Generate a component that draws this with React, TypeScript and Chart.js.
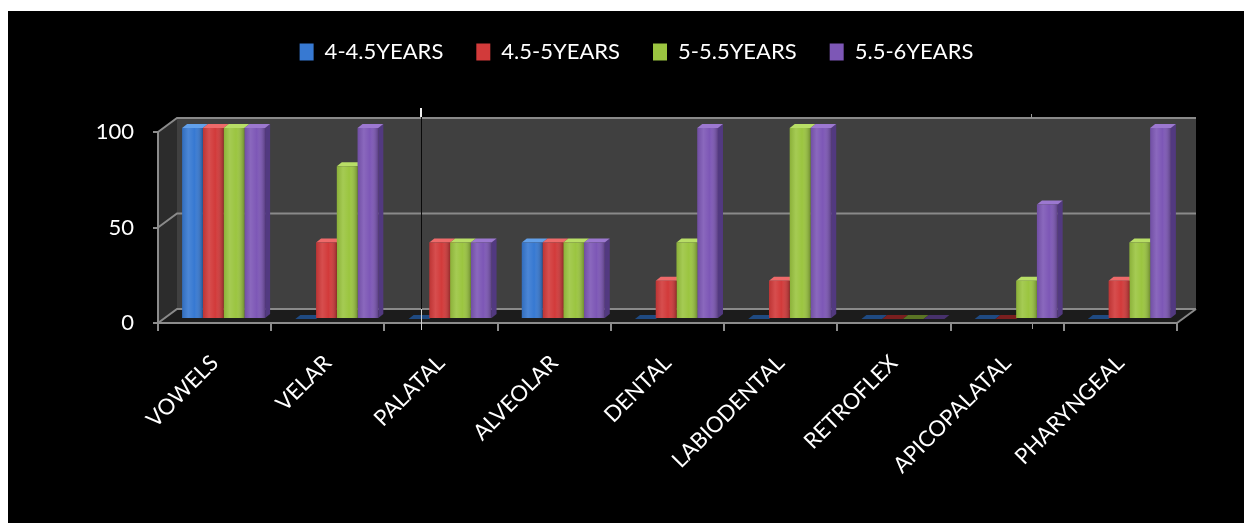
import React, { useEffect, useRef } from 'react';
import { Chart, registerables } from 'chart.js';

Chart.register(...registerables);

// ---------- data ----------
const categories = ['VOWELS', 'VELAR', 'PALATAL', 'ALVEOLAR', 'DENTAL', 'LABIODENTAL', 'RETROFLEX', 'APICOPALATAL', 'PHARYNGEAL'];
const seriesNames = ['4-4.5YEARS', '4.5-5YEARS', '5-5.5YEARS', '5.5-6YEARS'];
const age4to45 = [100, 0, 0, 40, 0, 0, 0, 0, 0];
const age45to5 = [100, 40, 40, 40, 20, 20, 0, 0, 20];
const age5to55 = [100, 80, 40, 40, 40, 100, 0, 20, 40];
const age55to6 = [100, 100, 40, 40, 100, 100, 0, 60, 100];
const yTicks = [0, 50, 100];

// ---------- styles ----------
const FONT = 'Lato, "Open Sans", sans-serif';
const frontColors = ['#3779d2', '#d23a3a', '#9bc540', '#7d57b6'];
const sideColors = ['#234f8c', '#8c2424', '#66852a', '#523980'];
const capColors = ['#62a0ea', '#ee6a6a', '#b8de66', '#9c78d0'];
const floorCapColors = ['#1f4a82', '#7a1f1f', '#5a7424', '#47316c'];
const DX = 19; // depth offset of back wall
const DY = -14;
const BX = 9; // bars translated into the middle of the depth
const BY = -4;
const CX = 5; // bar depth
const CY = -4;

function poly(ctx: CanvasRenderingContext2D, pts: number[][]) {
  ctx.beginPath();
  ctx.moveTo(pts[0][0], pts[0][1]);
  for (let i = 1; i < pts.length; i++) ctx.lineTo(pts[i][0], pts[i][1]);
  ctx.closePath();
  ctx.fill();
}

const frame3d = {
  id: 'frame3d',
  beforeDraw(chart: any) {
    const { ctx, chartArea: a, scales } = chart;
    const y = scales.y;
    const L = a.left, R = a.right, T = a.top, B = a.bottom;
    ctx.save();
    ctx.fillStyle = '#404040';
    ctx.fillRect(L + DX, T + DY, R - L, B - T);
    ctx.fillStyle = '#2c2c2c';
    poly(ctx, [[L, T], [L + DX, T + DY], [L + DX, B + DY], [L, B]]);
    ctx.fillStyle = '#1c1c1c';
    poly(ctx, [[L, B], [L + DX, B + DY], [R + DX, B + DY], [R, B]]);
    ctx.strokeStyle = '#8a8a8a';
    ctx.lineWidth = 2;
    for (const v of yTicks) {
      const py = y.getPixelForValue(v);
      ctx.beginPath();
      ctx.moveTo(L, py);
      ctx.lineTo(L + DX, py + DY);
      ctx.lineTo(R + DX, py + DY);
      ctx.stroke();
    }
    ctx.beginPath();
    ctx.moveTo(R, B);
    ctx.lineTo(R + DX, B + DY);
    ctx.stroke();
    ctx.restore();
  },
};

const bars3d = {
  id: 'bars3d',
  beforeDatasetsDraw(chart: any) {
    const ctx = chart.ctx;
    ctx.save();
    ctx.translate(BX, BY);
    chart.data.datasets.forEach((ds: any, di: number) => {
      const meta = chart.getDatasetMeta(di);
      meta.data.forEach((el: any, i: number) => {
        const { x, y, base, width } = el.getProps(['x', 'y', 'base', 'width'], true);
        const left = x - width / 2;
        const right = x + width / 2;
        const v = ds.data[i];
        if (v > 0) {
          ctx.fillStyle = sideColors[di];
          poly(ctx, [[right, y], [right + CX, y + CY], [right + CX, base + CY], [right, base]]);
          ctx.fillStyle = capColors[di];
          poly(ctx, [[left, y], [left + CX, y + CY], [right + CX, y + CY], [right, y]]);
        } else {
          ctx.fillStyle = floorCapColors[di];
          poly(ctx, [[left, base], [left + CX, base + CY], [right + CX, base + CY], [right, base]]);
        }
      });
    });
  },
  afterDatasetsDraw(chart: any) {
    const ctx = chart.ctx;
    chart.data.datasets.forEach((ds: any, di: number) => {
      const meta = chart.getDatasetMeta(di);
      meta.data.forEach((el: any, i: number) => {
        if (!(ds.data[i] > 0)) return;
        const { x, y, base, width } = el.getProps(['x', 'y', 'base', 'width'], true);
        const left = x - width / 2;
        const g = ctx.createLinearGradient(left, 0, left + width, 0);
        g.addColorStop(0, 'rgba(0,0,0,0.10)');
        g.addColorStop(0.3, 'rgba(255,255,255,0.10)');
        g.addColorStop(0.6, 'rgba(255,255,255,0.0)');
        g.addColorStop(1, 'rgba(0,0,0,0.28)');
        ctx.fillStyle = g;
        ctx.fillRect(left, y, width, base - y);
      });
    });
    ctx.restore();
  },
};

const artifacts = {
  id: 'artifacts',
  afterDraw(chart: any) {
    const ctx = chart.ctx;
    ctx.save();
    ctx.fillStyle = '#f0f0f0';
    ctx.fillRect(412, 100, 2, 9);
    ctx.fillStyle = '#0a0a0a';
    ctx.fillRect(413, 109, 1, 192);
    ctx.fillStyle = '#d0d0d0';
    ctx.fillRect(413, 301, 1, 21);
    ctx.fillStyle = '#9a9a9a';
    ctx.fillRect(1023, 106, 1, 4);
    ctx.fillRect(1024, 316, 1, 5);
    ctx.restore();
  },
};

const legendSpace = {
  id: 'legendSpace',
  beforeLayout(chart: any) {
    const lg = chart.legend;
    if (lg && !lg.__patched) {
      const orig = lg.fit;
      lg.fit = function () {
        orig.call(this);
        this.height = 124;
      };
      lg.__patched = true;
    }
  },
};

export default function App() {
  const ref = useRef<HTMLCanvasElement | null>(null);

  useEffect(() => {
    if (!ref.current) return;
    const seriesData = [age4to45, age45to5, age5to55, age55to6];
    const chart = new Chart(ref.current, {
      type: 'bar',
      data: {
        labels: categories,
        datasets: seriesNames.map((name, i) => ({
          label: name,
          data: seriesData[i],
          backgroundColor: frontColors[i],
          borderWidth: 0,
          categoryPercentage: 0.733,
          barPercentage: 1,
        })),
      },
      options: {
        responsive: false,
        animation: false,
        devicePixelRatio: 1,
        layout: { padding: { left: 88, right: 67, top: 0, bottom: 0 } },
        plugins: {
          legend: {
            position: 'top',
            labels: {
              color: '#ffffff',
              font: { family: FONT, size: 22 },
              boxWidth: 14,
              boxHeight: 17,
              padding: 33,
            },
          },
          tooltip: { enabled: false },
        },
        scales: {
          x: {
            grid: {
              display: true,
              drawOnChartArea: false,
              drawTicks: true,
              tickLength: 8,
              color: '#8c8c8c',
              lineWidth: 2,
              offset: true,
            },
            border: { display: true, color: '#8c8c8c', width: 2 },
            ticks: {
              color: '#ffffff',
              font: { family: FONT, size: 22 },
              maxRotation: 45,
              minRotation: 45,
              autoSkip: false,
              padding: 19,
            },
            afterFit: (s: any) => {
              s.height = 200;
            },
          },
          y: {
            min: 0,
            max: 100,
            afterBuildTicks: (s: any) => {
              s.ticks = yTicks.map((v) => ({ value: v }));
            },
            ticks: {
              color: '#ffffff',
              font: { family: FONT, size: 22 },
              padding: 19,
            },
            grid: {
              drawOnChartArea: false,
              drawTicks: true,
              tickLength: 5,
              color: '#8c8c8c',
              lineWidth: 2,
            },
            border: { display: true, color: '#8c8c8c', width: 2 },
            afterFit: (s: any) => {
              s.width = 62;
            },
          },
        },
      } as any,
      plugins: [legendSpace, frame3d, bars3d, artifacts],
    });
    return () => chart.destroy();
  }, []);

  return (
    <>
      <div style={{ position: 'fixed', left: 8, top: 11, width: 1236, height: 512, background: '#000' }} />
      <canvas
        ref={ref}
        width={1236}
        height={515}
        style={{ position: 'fixed', left: 8, top: 8, width: 1236, height: 515 }}
      />
    </>
  );
}
